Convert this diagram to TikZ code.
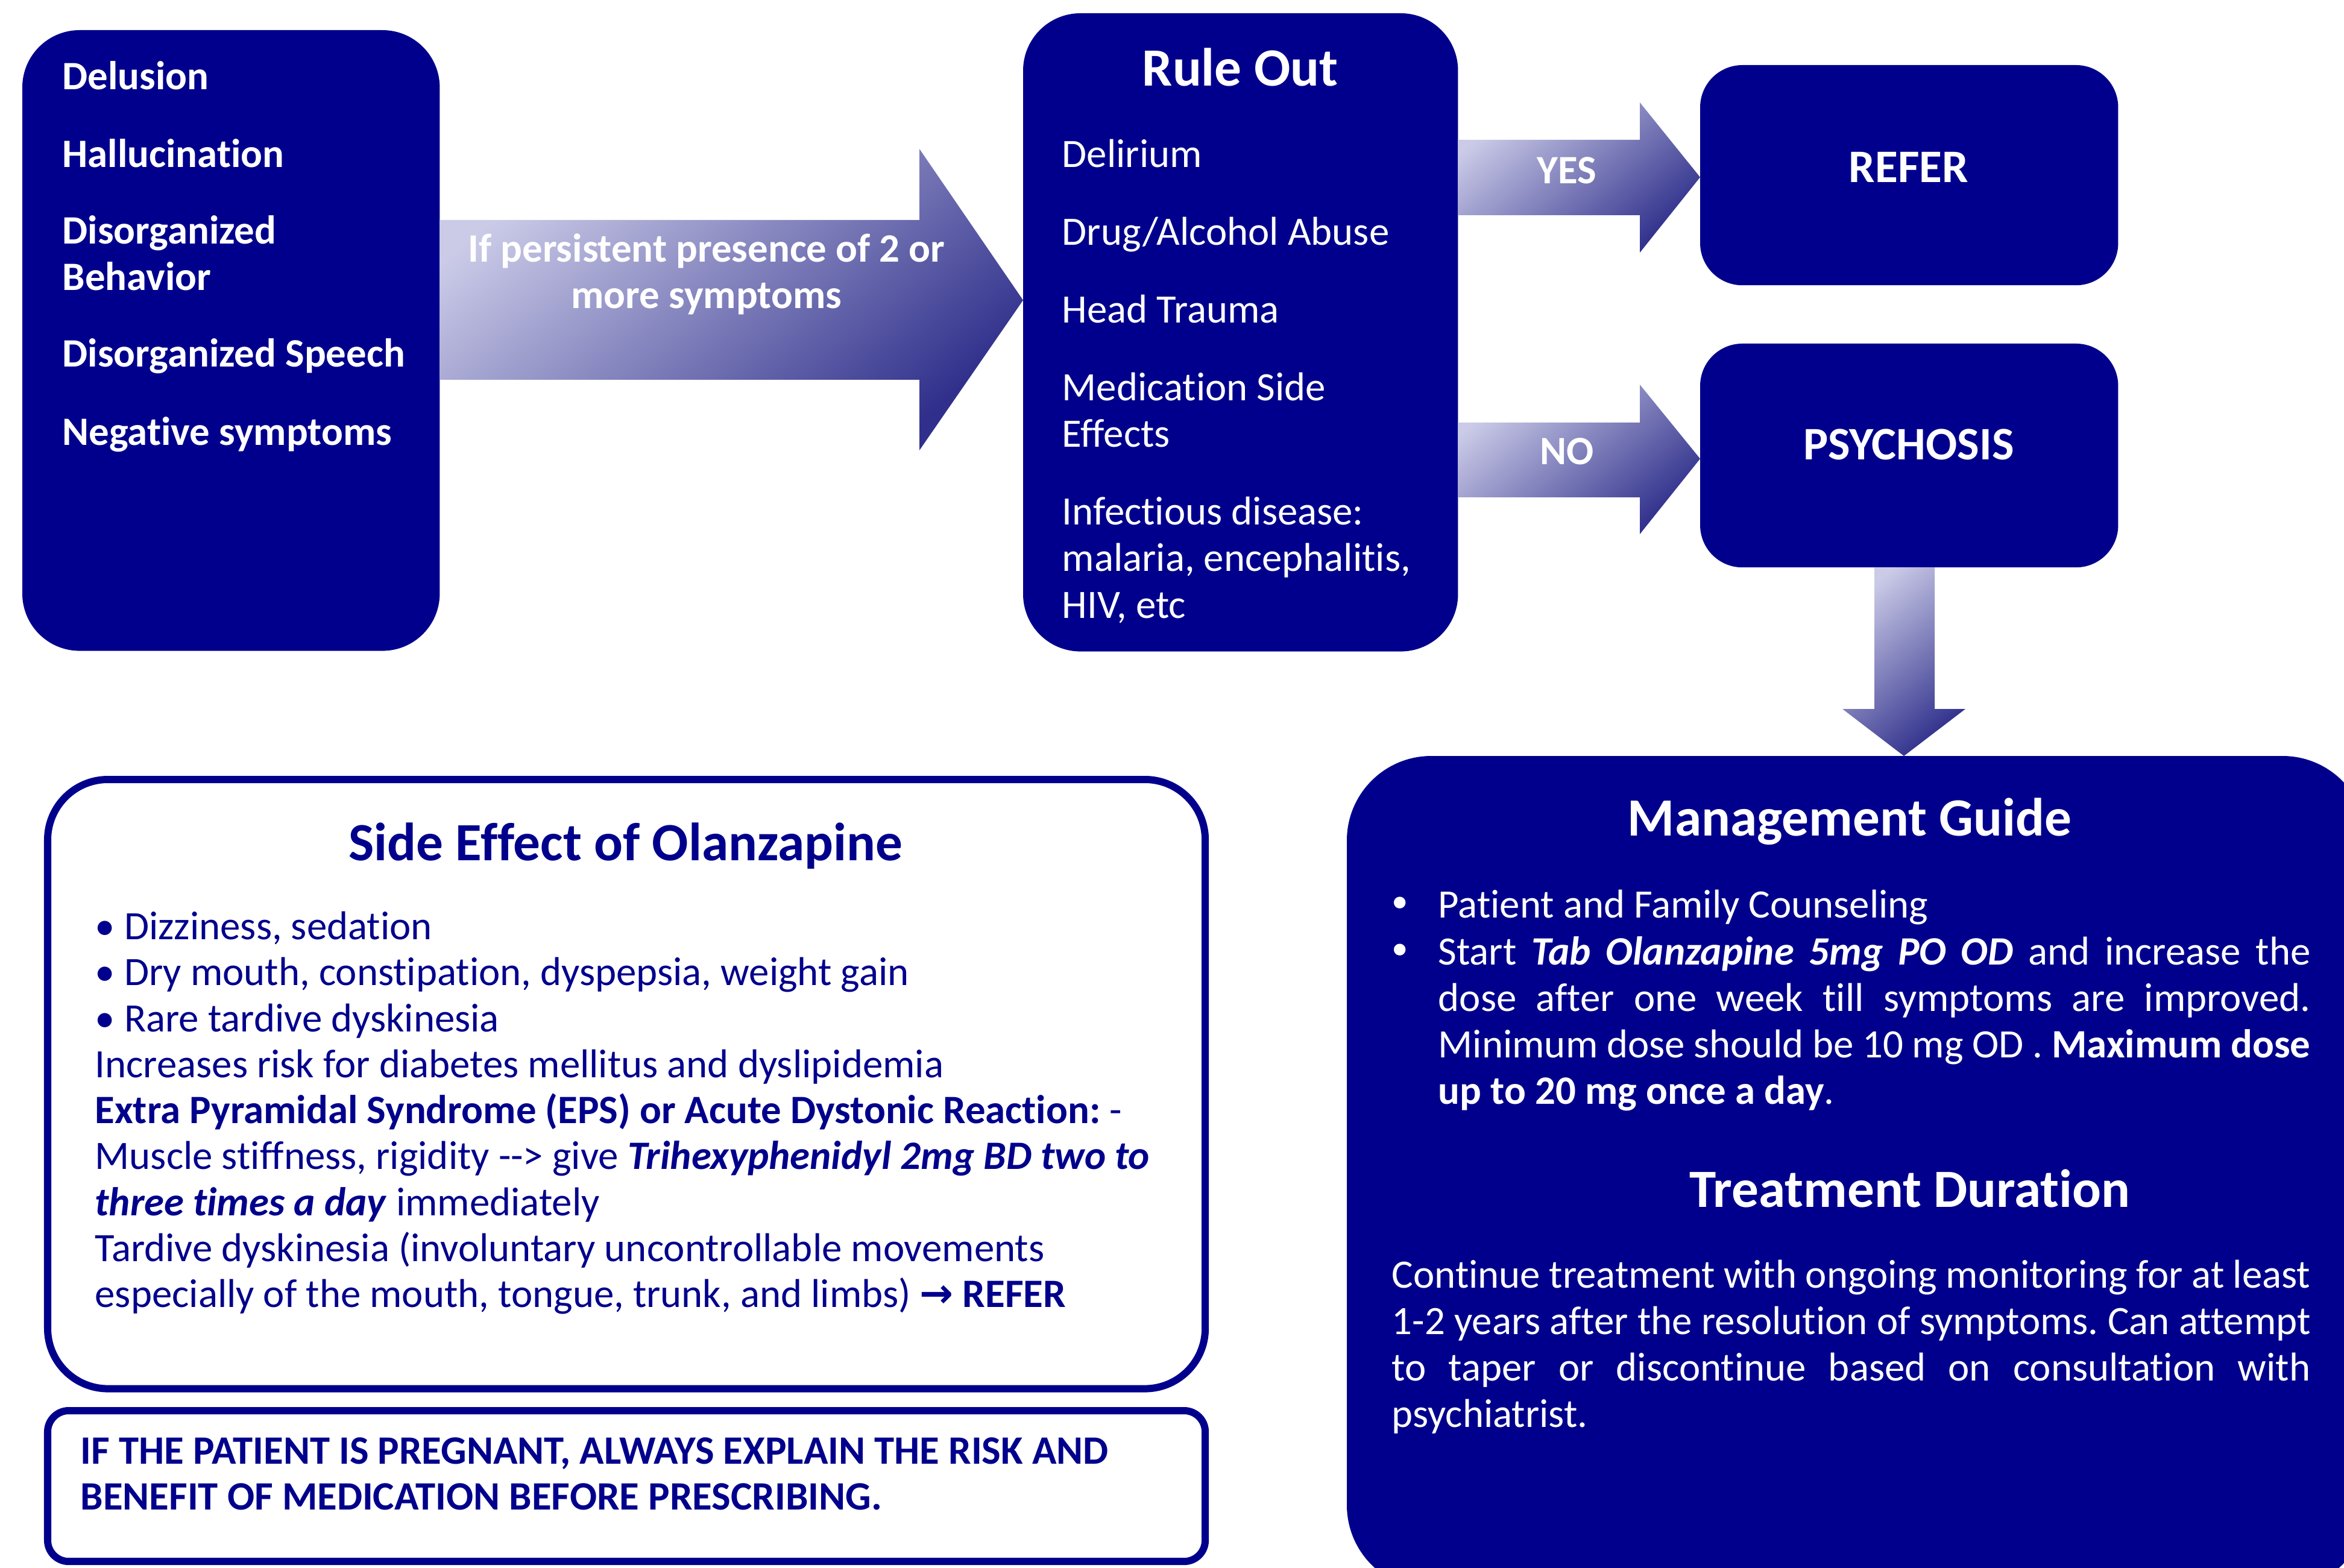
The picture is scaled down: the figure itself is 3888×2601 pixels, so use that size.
\documentclass[tikz,border=0pt]{standalone}
\usepackage{fontspec}
\setmainfont{Carlito}[Ligatures={TeX,NoCommon}]
\newfontfamily\symfont{DejaVu Sans}
\usetikzlibrary{calc}
\definecolor{navy}{HTML}{00008C}
\definecolor{arlight}{HTML}{CBCBE8}
\definecolor{ardark}{HTML}{30308C}
\frenchspacing
\begin{document}
\begin{tikzpicture}[x=0.01cm,y=-0.01cm,
  navybox/.style={fill=navy, draw=none, inner sep=0pt, outer sep=0pt, anchor=north west},
  linebox/.style={draw=navy, line width=1.2mm, fill=white, inner sep=0pt, outer sep=0pt, anchor=north west},
  bodyf/.style={font=\fontsize{19}{21.9}\selectfont},
  sidef/.style={font=\fontsize{19}{21.7}\selectfont},
  titlef/.style={font=\fontsize{25.4}{30}\selectfont\bfseries},
  wt/.style={text=white, inner sep=0pt, anchor=base west, bodyf},
  wtb/.style={wt, font=\fontsize{19}{21.9}\selectfont\bfseries},
  nt/.style={text=navy, inner sep=0pt, anchor=base west, sidef},
  ttl/.style={inner sep=0pt, anchor=base, titlef},
  blockarrow/.style={top color=arlight, bottom color=ardark, shading angle=40, draw=none}
]
\useasboundingbox (0,0) rectangle (3888,2601);

% ---------- boxes ----------
\node[navybox, minimum width=6.92cm, minimum height=10.29cm, rounded corners=0.95cm] (sym) at (37,50) {};
\node[navybox, minimum width=7.21cm, minimum height=10.58cm, rounded corners=0.95cm] (rule) at (1697,22) {};
\node[navybox, minimum width=6.93cm, minimum height=3.65cm, rounded corners=0.7cm] (refer) at (2820,108) {};
\node[navybox, minimum width=6.93cm, minimum height=3.71cm, rounded corners=0.7cm] (psych) at (2820,570) {};
\begin{scope}
\clip (0,0) rectangle (3888,2601);
\node[navybox, minimum width=16.91cm, minimum height=13.82cm, rounded corners=1.4cm] (mgmt) at (2234,1254) {};
\end{scope}
\node[linebox, minimum width=19.19cm, minimum height=10.10cm, rounded corners=1.0cm] (side) at (79,1293) {};
\node[linebox, minimum width=19.19cm, minimum height=2.50cm, rounded corners=0.35cm] (preg) at (79,2340) {};

% ---------- block arrows ----------
\shade[blockarrow] (sym.east |- 0,365) -- (1525,365) -- (1525,247) -- (rule.west |- 0,498)
  -- (1525,747) -- (1525,630) -- (sym.east |- 0,630) -- cycle;
\shade[blockarrow] (rule.east |- 0,232) -- (2720,232) -- (2720,170) -- (refer.west |- 0,294)
  -- (2720,419) -- (2720,357) -- (rule.east |- 0,357) -- cycle;
\shade[blockarrow] (rule.east |- 0,701) -- (2720,701) -- (2720,638) -- (psych.west |- 0,761)
  -- (2720,886) -- (2720,825) -- (rule.east |- 0,825) -- cycle;
\shade[blockarrow] (3109,0 |- psych.south) -- (3109,1176) -- (3056,1176) -- (3158,0 |- mgmt.north)
  -- (3260,1176) -- (3209,1176) -- (3209,0 |- psych.south) -- cycle;

% ---------- arrow labels ----------
\node[wtb, anchor=base] (a1) at (1172,435) {If persistent presence of 2 or};
\node[wtb, anchor=base] (a2) at (1172,512) {more symptoms};
\node[wtb, anchor=base] (yes) at (2599,305) {YES};
\node[wtb, anchor=base] (no) at (2599,771) {NO};

% ---------- symptoms ----------
\node[wtb] (s1) at (103,149) {Delusion};
\node[wtb] (s2) at (103,278) {Hallucination};
\node[wtb] (s3) at (103,405) {Disorganized};
\node[wtb] (s3b) at (103,482) {Behavior};
\node[wtb] (s4) at (103,609) {Disorganized Speech};
\node[wtb] (s5) at (103,739) {Negative symptoms};

% ---------- rule out ----------
\node[ttl, text=white] (rt) at (2057,143) {Rule Out};
\node[wt] (r1) at (1761,278) {Delirium};
\node[wt] (r2) at (1761,407) {Drug/Alcohol Abuse};
\node[wt] (r3) at (1761,536) {Head Trauma};
\node[wt] (r4) at (1761,665) {Medication Side};
\node[wt] (r4b) at (1761,742) {Effects};
\node[wt] (r5) at (1761,871) {Infectious disease:};
\node[wt] (r5b) at (1761,948) {malaria, encephalitis,};
\node[wt] (r5c) at (1761,1025) {HIV, etc};

% ---------- refer / psychosis ----------
\node[wtb, anchor=base, font=\fontsize{22}{26}\selectfont\bfseries] (refert) at (3166,303) {REFER};
\node[wtb, anchor=base, font=\fontsize{22}{26}\selectfont\bfseries] (psycht) at (3166,763) {PSYCHOSIS};

% ---------- management ----------
\node[ttl, text=white] (mt) at (3068,1386) {Management Guide};
\node[wt, anchor=base] (mb1) at (2322,1522) {\symfont •};
\node[wt] (m1) at (2385,1522) {Patient and Family Counseling};
\node[wt, anchor=base] (mb2) at (2322,1600) {\symfont •};
\node[wt, text width=14.46cm, align=justify] (m2) at (2385,1600) {Start \textbf{\textit{Tab Olanzapine 5mg PO OD}} and increase the\linebreak
dose after one week till symptoms are improved.\linebreak
Minimum dose should be 10 mg OD . \textbf{Maximum dose}\linebreak
\textbf{up to 20 mg once a day}.};
\node[ttl, text=white] (td) at (3168,2002) {Treatment Duration};
\node[wt, text width=15.23cm, align=justify] (tp) at (2308,2136) {Continue treatment with ongoing monitoring for at least\linebreak
1-2 years after the resolution of symptoms. Can attempt\linebreak
to taper or discontinue based on consultation with\linebreak
psychiatrist.};

% ---------- side effects ----------
\node[ttl, text=navy] (st) at (1038,1427) {Side Effect of Olanzapine};
\node[nt] (e1) at (157,1558) {• Dizziness, sedation};
\node[nt] (e2) at (157,1634) {• Dry mouth, constipation, dyspepsia, weight gain};
\node[nt] (e3) at (157,1711) {• Rare tardive dyskinesia};
\node[nt] (e4) at (157,1787) {Increases risk for diabetes mellitus and dyslipidemia};
\node[nt] (e5) at (157,1863) {\textbf{Extra Pyramidal Syndrome (EPS) or Acute Dystonic Reaction:} -};
\node[nt] (e6) at (157,1939) {Muscle stiffness, rigidity -{}-> give \textbf{\textit{Trihexyphenidyl 2mg BD two to}}};
\node[nt] (e7) at (157,2016) {\textbf{\textit{three times a day}} immediately};
\node[nt] (e8) at (157,2092) {Tardive dyskinesia (involuntary uncontrollable movements};
\node[nt] (e9) at (157,2168) {especially of the mouth, tongue, trunk, and limbs) {\symfont\bfseries →} \textbf{REFER}};

% ---------- pregnancy ----------
\node[nt, font=\fontsize{19}{21.7}\selectfont\bfseries] (p1) at (133,2428) {IF THE PATIENT IS PREGNANT, ALWAYS EXPLAIN THE RISK AND};
\node[nt, font=\fontsize{19}{21.7}\selectfont\bfseries] (p2) at (133,2504) {BENEFIT OF MEDICATION BEFORE PRESCRIBING.};
\end{tikzpicture}
\end{document}
